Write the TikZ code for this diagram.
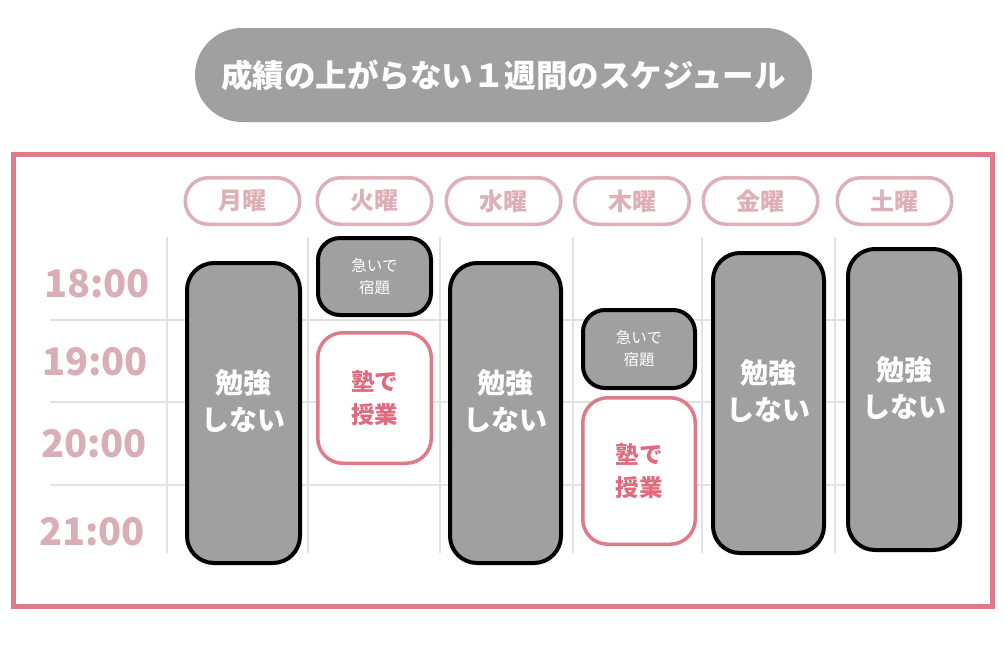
\documentclass[tikz,border=0pt]{standalone}
\usepackage{fontspec}
\setmainfont{Noto Sans CJK JP}
\definecolor{framepink}{HTML}{DE7A8A}
\definecolor{pillpink}{HTML}{DDB0B8}
\definecolor{timepink}{HTML}{D9AEB6}
\definecolor{boxgray}{HTML}{A0A0A0}
\definecolor{gridgray}{HTML}{E2E2E2}
\definecolor{jukutext}{HTML}{E06A7E}
\begin{document}
\begin{tikzpicture}[x=1pt,y=-1pt,
  titlepill/.style={fill=boxgray, rounded corners=47pt, minimum width=617pt, minimum height=94pt, inner sep=0pt, text=white, font=\bfseries\fontsize{31.5}{36}\selectfont},
  daypill/.style={draw=pillpink, line width=3.5pt, fill=white, rounded corners=23pt, minimum width=114.5pt, minimum height=46.5pt, inner sep=0pt, text=pillpink, font=\bfseries\fontsize{24}{28}\selectfont},
  timelabel/.style={text=timepink, inner sep=0pt, font=\bfseries\fontsize{38}{44}\selectfont},
  gridline/.style={draw=gridgray, line width=1.5pt},
  nostudy/.style={draw=black, line width=4pt, fill=boxgray, rounded corners=27pt, inner sep=0pt},
  nostudytext/.style={text=white, align=center, inner sep=0pt, font=\bfseries\fontsize{28}{37}\selectfont},
  hurry/.style={draw=black, line width=4pt, fill=boxgray, rounded corners=22pt, inner sep=0pt, text=white, align=center, font=\fontsize{15.5}{22}\selectfont},
  juku/.style={draw=framepink, line width=3.5pt, fill=white, rounded corners=25pt, inner sep=0pt, text=jukutext, align=center, font=\bfseries\fontsize{23.5}{33}\selectfont},
]
\useasboundingbox (0,0) rectangle (1005,670);

% title
\node[titlepill] (title) at (503.5,75) {成績の上がらない１週間のスケジュール};

% frame
\draw[framepink, line width=5pt] (13.5,154.5) rectangle (992.5,606);

% grid
\foreach \gx in {167,308,440,573,702,835} {
  \draw[gridline] (\gx,237) -- (\gx,553);
}
\foreach \gy in {320,402,485} {
  \draw[gridline] (50,\gy) -- (847,\gy);
}

% day headers
\node[daypill] (mon) at (242.5,201) {月曜};
\node[daypill] (tue) at (374.5,201) {火曜};
\node[daypill] (wed) at (503.5,201) {水曜};
\node[daypill] (thu) at (632,201) {木曜};
\node[daypill] (fri) at (760.5,201) {金曜};
\node[daypill] (sat) at (894.5,201) {土曜};

% time labels
\node[timelabel] (t18) at (97,283.5) {18:00};
\node[timelabel] (t19) at (95,361.5) {19:00};
\node[timelabel] (t20) at (94,444) {20:00};
\node[timelabel] (t21) at (92,532) {21:00};

% Monday
\node[nostudy, minimum width=113pt, minimum height=300pt] (monbox) at (243.5,413) {};
\node[nostudytext] (montext) at (243.5,401) {勉強\\しない};

% Tuesday
\node[hurry, minimum width=113pt, minimum height=77pt] (tuehw) at (374.5,276.5) {急いで\\宿題};
\node[juku, minimum width=113.5pt, minimum height=130.5pt] (tuejuku) at (374.5,398) {塾で\\授業};

% Wednesday
\node[nostudy, minimum width=111pt, minimum height=300pt] (wedbox) at (505.5,413) {};
\node[nostudytext] (wedtext) at (505.5,401) {勉強\\しない};

% Thursday
\node[hurry, minimum width=112pt, minimum height=78pt] (thuhw) at (639,349) {急いで\\宿題};
\node[juku, minimum width=112.5pt, minimum height=146.5pt] (thujuku) at (639,471) {塾で\\授業};

% Friday
\node[nostudy, minimum width=111pt, minimum height=300pt] (fribox) at (768.5,403) {};
\node[nostudytext] (fritext) at (768.5,391) {勉強\\しない};

% Saturday
\node[nostudy, minimum width=112pt, minimum height=301pt] (satbox) at (904,399.5) {};
\node[nostudytext] (sattext) at (904,388) {勉強\\しない};
\end{tikzpicture}
\end{document}
